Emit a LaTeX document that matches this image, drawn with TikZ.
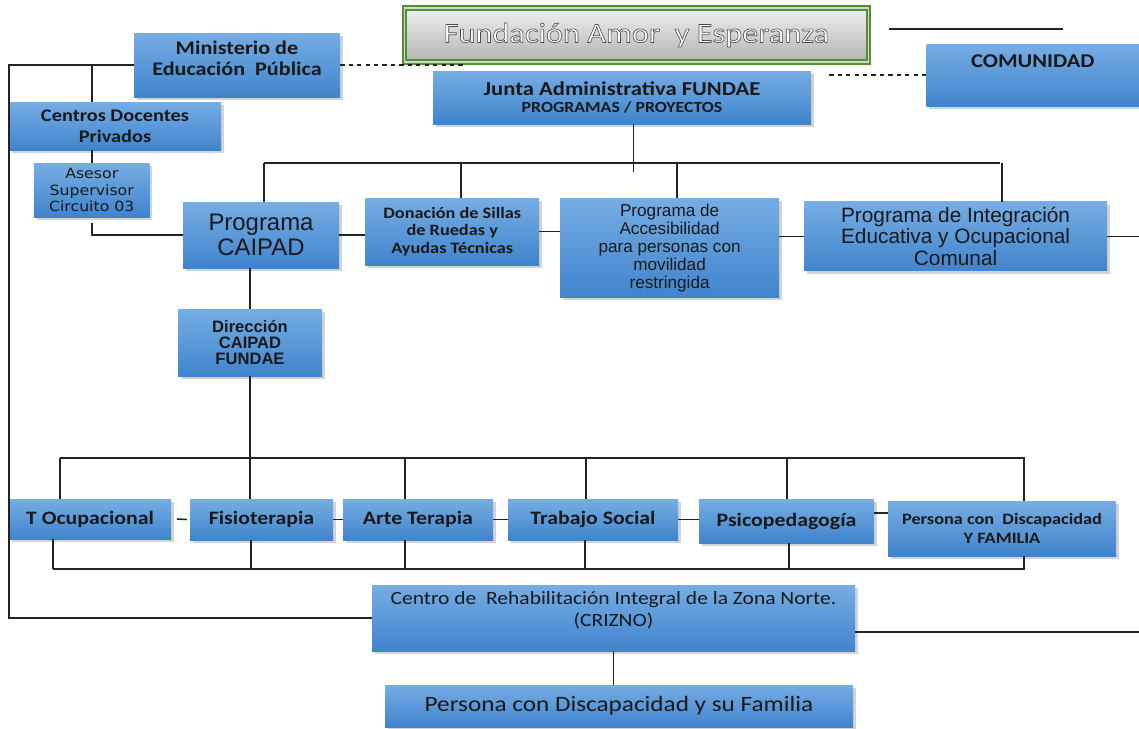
\documentclass[tikz,border=0pt]{standalone}
\usepackage{fontspec}
\setmainfont{Carlito}[FakeStretch=1.15]
\newfontfamily\arialf{Liberation Sans}
\newfontfamily\tahf{DejaVu Sans}[FakeStretch=1.12]
\usetikzlibrary{shadows}
\definecolor{bxtop}{RGB}{118,173,228}
\definecolor{bxbot}{RGB}{64,132,204}
\definecolor{ttlgreen}{RGB}{88,140,58}
\definecolor{lnkc}{RGB}{35,35,35}
\newcommand\fsz[2]{\fontsize{#1}{#2}\selectfont}
\newcommand\outl[1]{\special{pdf:code q 0.3 0.3 0.3 RG 0.45 w 2 Tr}#1\special{pdf:code Q}}
\begin{document}
\begin{tikzpicture}[
    bx/.style={shade, top color=bxtop, bottom color=bxbot, text=black!90, align=center, inner sep=1pt,
      drop shadow={shadow xshift=2pt, shadow yshift=-2pt, opacity=.35}},
    lnk/.style={draw=lnkc, line width=1.1pt}
  ]
  \useasboundingbox (0,0) rectangle (28.475,-18.2);
  \node[draw=ttlgreen, line width=1.4pt, double=ttlgreen!30!white, double distance=1pt, top color=black!6,
    bottom color=black!30, minimum width=11.6cm, minimum height=1.35cm, text=white, font=\fsz{20}{24},
    drop shadow={shadow xshift=2pt, shadow yshift=-2pt, opacity=.35}] (ttl) at (15.91,-0.875)
    {\outl{Fundación Amor\ \ y Esperanza}};
  \node[bx, minimum width=5.15cm, minimum height=1.6cm, inner sep=0pt, font=\fsz{13.7}{15}\bfseries] (mep)
    at (5.925,-1.625) {\parbox[c][1.2cm][t]{5cm}{\centering Ministerio de\\Educación\ \ Pública}};
  \node[bx, minimum width=5.3cm, minimum height=1.2cm, font=\fsz{12.6}{15}\bfseries] (cdp) at (2.875,-3.15)
    {Centros Docentes\\Privados};
  \node[bx, minimum width=2.89cm, minimum height=1.35cm, font=\tahf\fsz{10}{11.5}] (asesor) at (2.294,-4.75)
    {Asesor\\Supervisor\\Circuito 03};
  \node[bx, minimum width=9.45cm, minimum height=1.325cm, font=\bfseries] (junta) at (15.55,-2.4375)
    {{\fsz{14}{15}Junta Administrativa FUNDAE}\\{\fsz{11}{15}PROGRAMAS / PROYECTOS}};
  \node[bx, minimum width=5.31cm, minimum height=1.55cm, inner sep=0pt, font=\fsz{13.9}{15}\bfseries] (com)
    at (25.82,-1.875) {\parbox[c][1cm][t]{5cm}{\centering COMUNIDAD}};
  \node[bx, minimum width=3.9cm, minimum height=1.65cm, font=\arialf\fsz{17}{18}] (caipad) at (6.525,-5.875)
    {Programa\\CAIPAD};
  \node[bx, minimum width=4.34cm, minimum height=1.675cm, font=\fsz{11.3}{12.5}\bfseries] (sillas)
    at (11.306,-5.7875) {Donación de Sillas\\de Ruedas y\\Ayudas Técnicas};
  \node[bx, minimum width=5.475cm, minimum height=2.475cm, font=\arialf\fsz{12.2}{12.8}] (acces)
    at (16.74,-6.19) {Programa de\\Accesibilidad\\para personas con\\movilidad\\restringida};
  \node[bx, minimum width=7.575cm, minimum height=1.725cm, font=\arialf\fsz{14.8}{15}] (pieoc) at (23.89,-5.91)
    {Programa de Integración\\Educativa y Ocupacional\\Comunal};
  \node[bx, minimum width=3.6cm, minimum height=1.675cm, font=\arialf\bfseries\fsz{11.8}{11.5}] (dir)
    at (6.25,-8.5625) {Dirección\\CAIPAD\\FUNDAE};
  \node[bx, minimum width=4.05cm, minimum height=1cm, font=\fsz{13.5}{16}\bfseries] (tocup) at (2.25,-12.975)
    {T Ocupacional};
  \node[bx, minimum width=3.575cm, minimum height=1.025cm, font=\fsz{13.5}{16}\bfseries] (fisio)
    at (6.5375,-12.9875) {Fisioterapia};
  \node[bx, minimum width=3.75cm, minimum height=1.025cm, font=\fsz{13.5}{16}\bfseries] (arte)
    at (10.45,-12.9875) {Arte Terapia};
  \node[bx, minimum width=4.25cm, minimum height=1.025cm, font=\fsz{13.5}{16}\bfseries] (trab)
    at (14.825,-12.9875) {Trabajo Social};
  \node[bx, minimum width=4.375cm, minimum height=1.1cm, font=\fsz{13.5}{16}\bfseries] (psico)
    at (19.6625,-13.025) {Psicopedagogía};
  \node[bx, minimum width=5.7cm, minimum height=1.375cm, font=\fsz{11.3}{13}\bfseries] (pfam)
    at (25.05,-13.2125) {Persona con\ \ Discapacidad\\Y FAMILIA};
  \node[bx, minimum width=12.075cm, minimum height=1.65cm, inner sep=0pt, font=\fsz{13.3}{15.4}] (crizno)
    at (15.3375,-15.45) {\parbox[c][1.3cm][t]{12cm}{\centering Centro de\ \ Rehabilitación Integral de la Zona Norte.\\(CRIZNO)}};
  \node[bx, minimum width=11.7cm, minimum height=1.05cm, font=\fsz{15.6}{18}] (fam) at (15.475,-17.65)
    {Persona con Discapacidad y su Familia};
  \coordinate (lft) at (0.225,0);
  \coordinate (rgt) at (28.475,0);
  \coordinate (dsh1) at (11.625,0);
  \coordinate (dsh2) at (20.66,0);
  \coordinate (tl1) at (22.225,-0.725);
  \coordinate (tl2) at (26.575,-0.725);
  \draw[lnk] (mep.west) -- (mep.west -| lft) |- (crizno.west);
  \draw[lnk] (mep.west -| asesor.north) -- (cdp.north -| asesor.north);
  \draw[lnk] (cdp.south -| asesor.north) -- (asesor.north);
  \draw[lnk] ([yshift=-4pt]asesor.south) |- (caipad.west);
  \draw[lnk, dashed] (mep.east) -- (mep.east -| dsh1);
  \draw[lnk, dashed] (com.west) -- (com.west -| dsh2);
  \draw[lnk] (tl1) -- (tl2);
  \draw[lnk] (junta.south -| 15.84,0) -- (15.84,-4.3);
  \draw[lnk] (6.6,-4.075) -- (25,-4.075);
  \foreach \n/\x in {caipad/6.6, sillas/11.525, acces/16.925, pieoc/25.05}
    \draw[lnk] (\x,-4.075) -- (\n.north -| \x,0);
  \draw[lnk] (caipad.east) -- (caipad.east -| sillas.west);
  \draw[lnk] (sillas.east) -- (sillas.east -| acces.west);
  \draw[lnk] (pieoc.west -| acces.east) -- (pieoc.west);
  \draw[lnk] (pieoc.east) -- (pieoc.east -| rgt);
  \draw[lnk] (caipad.south -| dir.north) -- (dir.north);
  \draw[lnk] (dir.south) -- (dir.south |- fisio.north);
  \draw[lnk] (1.5,-11.45) -- (25.625,-11.45);
  \foreach \n/\x in {tocup/1.5, arte/10.125, trab/14.65, psico/19.675, pfam/25.6}
    \draw[lnk] (\x,-11.45) -- (\n.north -| \x,0);
  \draw[lnk] (1.325,-14.225) -- (25.625,-14.225);
  \foreach \n/\x in {tocup/1.325, fisio/6.275, arte/10.125, trab/14.625, psico/19.725, pfam/25.6}
    \draw[lnk] (\x,-14.225) -- (\n.south -| \x,0);
  \draw[lnk] ([xshift=4pt]tocup.east) -- ([xshift=-2pt]fisio.west);
  \draw[lnk] (fisio.east) -- (arte.west);
  \draw[lnk] (arte.east) -- (trab.west);
  \draw[lnk] (trab.east) -- (trab.east -| psico.west);
  \draw[lnk] ([yshift=.2cm]psico.east) -- ([yshift=.2cm]psico.east -| pfam.west);
  \draw[lnk] (crizno.south) -- (crizno.south |- fam.north);
  \draw[lnk] ([yshift=-.35cm]crizno.east) -- ([yshift=-.35cm]crizno.east -| rgt);
\end{tikzpicture}
\end{document}
